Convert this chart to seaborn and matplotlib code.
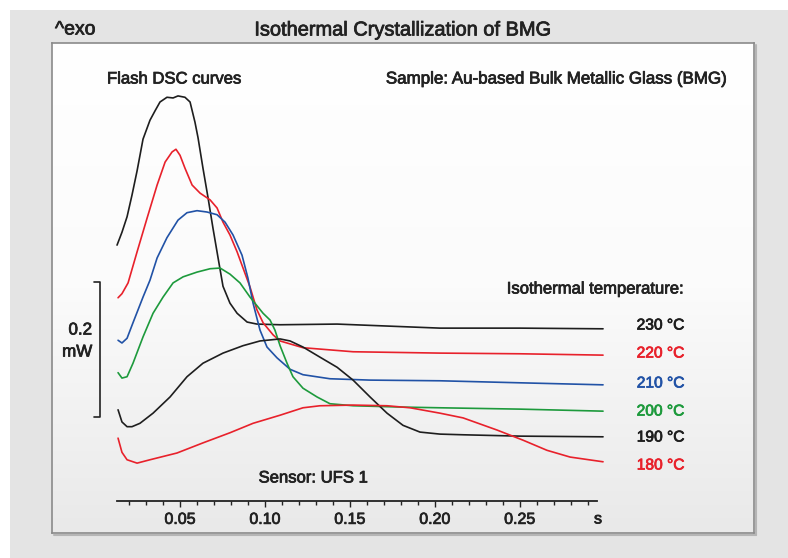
import numpy as np
import pandas as pd
import matplotlib
matplotlib.use("Agg")
import matplotlib.pyplot as plt
import matplotlib.patheffects as pe
import seaborn as sns
from matplotlib.patches import Rectangle
from matplotlib.lines import Line2D
from matplotlib.colors import LinearSegmentedColormap

sns.set_theme(style="white")
plt.rcParams["font.family"] = ["Liberation Sans", "DejaVu Sans"]

# ---------------- data (time in s, heat flow in mW, arbitrary offset) ----------------
t_230 = [0.0129, 0.0158, 0.0188, 0.0217, 0.0247, 0.0282, 0.0323, 0.0353, 0.0382, 0.0423,
         0.0459, 0.0488, 0.0529, 0.0559, 0.0588, 0.0606, 0.0635, 0.0665, 0.0694, 0.0724,
         0.0753, 0.0794, 0.0836, 0.0895, 0.0953, 0.1089, 0.1425, 0.2031, 0.2502, 0.2991]
p_230 = [0.348, 0.367, 0.390, 0.422, 0.458, 0.505, 0.533, 0.547, 0.560, 0.567,
         0.566, 0.569, 0.567, 0.560, 0.530, 0.507, 0.462, 0.418, 0.373, 0.329,
         0.287, 0.262, 0.247, 0.234, 0.231, 0.230, 0.231, 0.225, 0.225, 0.224]

t_220 = [0.0135, 0.0158, 0.0194, 0.0247, 0.0306, 0.0365, 0.0412, 0.0453, 0.0476, 0.0500,
         0.0529, 0.0571, 0.0618, 0.0677, 0.0718, 0.0753, 0.0794, 0.0836, 0.0871, 0.0912,
         0.0953, 0.0989, 0.1048, 0.1089, 0.1224, 0.1519, 0.2031, 0.2502, 0.2991]
p_220 = [0.270, 0.276, 0.292, 0.338, 0.388, 0.437, 0.471, 0.486, 0.490, 0.481,
         0.462, 0.437, 0.425, 0.415, 0.403, 0.382, 0.363, 0.338, 0.314, 0.286,
         0.252, 0.233, 0.215, 0.206, 0.196, 0.190, 0.188, 0.187, 0.185]

t_210 = [0.0135, 0.0158, 0.0188, 0.0223, 0.0282, 0.0323, 0.0365, 0.0423, 0.0488, 0.0541,
         0.0600, 0.0659, 0.0718, 0.0765, 0.0812, 0.0865, 0.0900, 0.0930, 0.0971, 0.1012,
         0.1071, 0.1148, 0.1224, 0.1383, 0.1619, 0.2031, 0.2502, 0.2991]
p_210 = [0.207, 0.203, 0.210, 0.233, 0.271, 0.296, 0.329, 0.359, 0.385, 0.396,
         0.399, 0.397, 0.393, 0.382, 0.363, 0.333, 0.299, 0.262, 0.222, 0.197,
         0.181, 0.164, 0.156, 0.150, 0.148, 0.147, 0.144, 0.141]

t_200 = [0.0135, 0.0158, 0.0188, 0.0223, 0.0282, 0.0341, 0.0400, 0.0459, 0.0518, 0.0600,
         0.0677, 0.0736, 0.0794, 0.0853, 0.0912, 0.0989, 0.1030, 0.1059, 0.1089, 0.1130,
         0.1165, 0.1224, 0.1307, 0.1383, 0.1519, 0.1813, 0.2031, 0.2502, 0.2991]
p_200 = [0.159, 0.151, 0.153, 0.173, 0.212, 0.247, 0.271, 0.292, 0.301, 0.308,
         0.313, 0.314, 0.305, 0.292, 0.271, 0.247, 0.237, 0.222, 0.199, 0.173,
         0.153, 0.136, 0.123, 0.113, 0.110, 0.108, 0.107, 0.105, 0.102]

t_190 = [0.0135, 0.0158, 0.0188, 0.0217, 0.0264, 0.0341, 0.0441, 0.0541, 0.0635, 0.0753,
         0.0871, 0.0971, 0.1089, 0.1148, 0.1224, 0.1324, 0.1425, 0.1519, 0.1619, 0.1719,
         0.1813, 0.1913, 0.2031, 0.2167, 0.2502, 0.2991]
p_190 = [0.104, 0.086, 0.079, 0.079, 0.084, 0.099, 0.123, 0.153, 0.173, 0.188,
         0.199, 0.206, 0.209, 0.206, 0.197, 0.182, 0.167, 0.148, 0.123, 0.099,
         0.081, 0.071, 0.068, 0.067, 0.065, 0.064]

t_180 = [0.0135, 0.0158, 0.0188, 0.0247, 0.0323, 0.0482, 0.0635, 0.0794, 0.0930, 0.1089,
         0.1224, 0.1324, 0.1519, 0.1719, 0.1855, 0.2031, 0.2167, 0.2367, 0.2520, 0.2661,
         0.2797, 0.2991]
p_180 = [0.062, 0.041, 0.030, 0.025, 0.030, 0.040, 0.055, 0.070, 0.084, 0.096,
         0.107, 0.110, 0.111, 0.110, 0.107, 0.099, 0.092, 0.074, 0.059, 0.044,
         0.034, 0.027]

temp_labels = ["230 °C", "220 °C", "210 °C", "200 °C", "190 °C", "180 °C"]
tick_values = [0.05, 0.10, 0.15, 0.20, 0.25]
tick_labels = ["0.05", "0.10", "0.15", "0.20", "0.25"]

BLACK, RED, BLUE, GREEN = "#1e1e1e", "#e8212b", "#2152a6", "#1d9a3c"
series = [(t_230, p_230, BLACK), (t_220, p_220, RED), (t_210, p_210, BLUE),
          (t_200, p_200, GREEN), (t_190, p_190, BLACK), (t_180, p_180, RED)]

# ---------------- figure ----------------
W, H = 788, 558
fig = plt.figure(figsize=(W / 100, H / 100), dpi=100, facecolor="#e4e4e4")


def fx(x):
    return x / W


def fy(y):
    return 1 - y / H


def heavy(color):
    return [pe.withStroke(linewidth=0.55, foreground=color)]


fig.patches.append(Rectangle((0, fy(10)), 1, 10 / H, transform=fig.transFigure,
                             facecolor="white", edgecolor="none", zorder=0))
fig.patches.append(Rectangle((0, 0), 10 / W, 1, transform=fig.transFigure,
                             facecolor="white", edgecolor="none", zorder=0))

rect = [fx(52), fy(533), 702 / W, 490 / H]

# background panel with gradient
bg = fig.add_axes(rect, zorder=0)
cmap = LinearSegmentedColormap.from_list("g", ["#e9e9e9", "#fbfbfb", "#ffffff"])
bg.imshow(np.linspace(0, 1, 256).reshape(-1, 1), cmap=cmap, aspect="auto",
          extent=(0, 1, 0, 1), origin="lower")
bg.set_xticks([])
bg.set_yticks([])
for s in bg.spines.values():
    s.set_color("#8a8a8a")
    s.set_linewidth(1.2)

# shadow on right/bottom
fig.add_artist(Line2D([fx(756), fx(756)], [fy(45), fy(535)], color="#b5b5b5", lw=1.5))
fig.add_artist(Line2D([fx(54), fx(756)], [fy(535), fy(535)], color="#b5b5b5", lw=1.5))

ax = fig.add_axes(rect, zorder=2)
ax.patch.set_alpha(0)

for t, p, c in series:
    df = pd.DataFrame({"t": t, "p": p})
    sns.lineplot(data=df, x="t", y="p", color=c, lw=1.2, ax=ax, sort=False,
                 estimator=None)

ax.set_xlim(-0.0254, 0.3880)
ax.set_ylim(-0.0785, 0.6474)
ax.set_xlabel("")
ax.set_ylabel("")
for k in ["top", "left", "right"]:
    ax.spines[k].set_visible(False)
ax.spines["bottom"].set_position(("data", -0.0307))
ax.spines["bottom"].set_bounds(0.0129, 0.2955)
ax.spines["bottom"].set_color("#222222")
ax.spines["bottom"].set_linewidth(1.3)
ax.set_yticks([])
ax.set_xticks(tick_values)
ax.set_xticklabels(tick_labels)
ax.set_xticks(np.round(np.arange(0.02, 0.295, 0.01), 3), minor=True)
ax.tick_params(axis="x", which="major", direction="out", length=4.5, width=1.0,
               color="#222222", labelsize=11.5, labelcolor="#222222", pad=3.5, bottom=True)
ax.tick_params(axis="x", which="minor", direction="out", length=3, width=1.0,
               color="#222222", bottom=True)
for lab in ax.get_xticklabels():
    lab.set_path_effects(heavy("#222222"))

TXT = "#222222"


def ftext(x, y, s, ha="left", size=12, color=TXT):
    fig.text(fx(x), fy(y), s, ha=ha, va="center", fontsize=size, color=color,
             path_effects=heavy(color))


ftext(55, 30, "^exo", size=14)
ftext(403, 30, "Isothermal Crystallization of BMG", ha="center", size=14.4)
ftext(107, 79, "Flash DSC curves", size=12)
ftext(727, 79, "Sample: Au-based Bulk Metallic Glass (BMG)", ha="right", size=12.2)
ftext(684, 289, "Isothermal temperature:", ha="right", size=12)
label_y = [325, 353, 383, 411, 437, 465]
for lab, y, (_, _, c) in zip(temp_labels, label_y, series):
    ftext(684, y, lab, ha="right", size=11.2, color=c)
ftext(92, 330, "0.2", ha="right", size=12.2)
ftext(92, 352, "mW", ha="right", size=12.2)
fig.add_artist(Line2D([fx(94), fx(100), fx(100), fx(94)],
                      [fy(282), fy(282), fy(417), fy(417)], color=TXT, lw=1.2))
ftext(313, 478, "Sensor: UFS 1", ha="center", size=12)
ftext(598, 519, "s", ha="center", size=11.5)

fig.savefig("out.png", dpi=100, facecolor=fig.get_facecolor())
